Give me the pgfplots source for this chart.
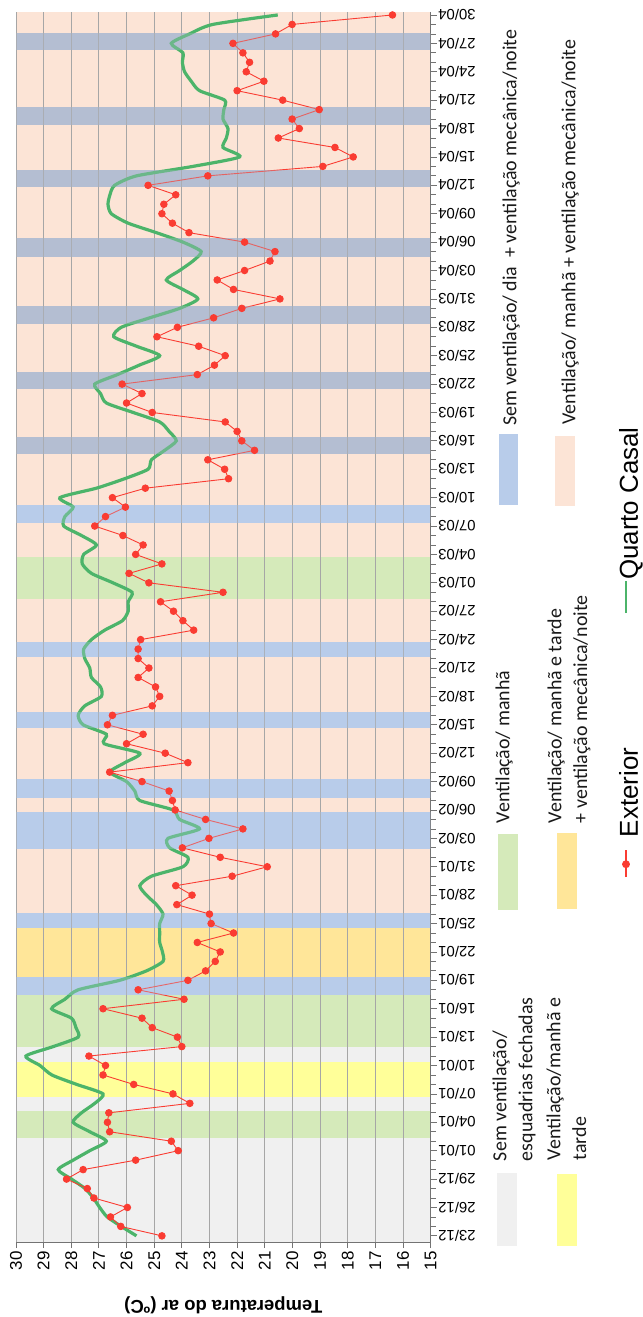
\documentclass[border=0pt]{standalone}
\usepackage{fontspec}
\setmainfont{Liberation Sans}
\newfontfamily\calibri{Carlito}
\usepackage{pgfplots}
\pgfplotsset{compat=1.18}
\usepackage{pgfplotstable}

\definecolor{cPeach}{RGB}{252,228,214}
\definecolor{cGrey}{RGB}{240,240,240}
\definecolor{cYellow}{RGB}{255,255,153}
\definecolor{cGreen}{RGB}{213,234,186}
\definecolor{cOrange}{RGB}{255,230,153}
\definecolor{cBlue}{RGB}{184,204,234}
\definecolor{cGBlue}{RGB}{180,190,210}
\definecolor{cRed}{RGB}{250,60,50}
\definecolor{cLine}{RGB}{76,180,106}

\pgfplotstableread{
d T
0 24.72
1 26.21
2 26.58
3 25.97
4 27.18
5 27.42
6 28.17
7 27.57
8 25.67
9 24.13
10 24.38
11 26.61
12 26.69
13 26.64
14 23.71
15 24.32
16 25.74
17 26.85
18 26.76
19 27.36
20 24.0
21 24.16
22 25.07
23 25.44
24 26.85
25 23.92
26 25.58
27 23.78
28 23.14
29 22.79
30 22.61
31 23.44
32 22.13
33 22.94
34 23.0
35 24.18
36 23.63
37 24.22
38 22.18
39 20.91
40 22.61
41 23.98
42 23.02
43 21.79
44 23.14
45 24.24
46 24.34
47 24.46
48 25.44
49 26.61
50 23.78
51 24.6
52 26.0
53 25.4
54 26.69
55 26.51
56 25.07
57 24.8
58 24.95
59 25.58
60 25.19
61 25.58
62 25.58
63 25.49
64 23.57
65 23.96
66 24.3
67 24.77
68 22.51
69 25.19
70 25.91
71 24.72
72 25.67
73 25.4
74 26.13
75 27.15
76 26.76
77 26.04
78 26.51
79 25.32
80 22.31
81 22.45
82 23.06
83 21.37
84 21.83
85 22.0
86 22.43
87 25.07
88 26.0
89 25.44
90 26.16
91 23.44
92 22.82
93 22.43
94 23.39
95 24.9
96 24.16
97 22.85
98 21.83
99 20.45
100 22.13
101 22.72
102 21.73
103 20.81
104 20.63
105 21.73
106 23.74
107 24.34
108 24.72
109 24.65
110 24.22
111 25.22
112 23.06
113 18.9
114 17.8
115 18.46
116 20.51
117 19.75
118 20.01
119 19.03
120 20.35
121 22.0
122 21.03
123 21.67
124 21.55
125 21.79
126 22.15
127 20.61
128 20.01
129 16.38
}\exterior

\pgfplotstableread{
d T
0 25.64
1 26.19
2 26.70
3 26.97
4 27.2
5 27.5
6 27.99
7 28.47
8 27.93
9 27.33
10 26.73
11 27.33
12 27.93
13 27.63
14 27.15
15 26.85
16 27.8
17 28.7
18 29.13
19 29.64
20 28.65
21 27.75
22 27.83
23 27.99
24 28.71
25 28.23
26 27.75
27 26.25
28 25.28
29 24.68
30 24.7
31 24.8
32 24.8
33 24.8
34 24.68
35 24.92
36 25.28
37 25.52
38 25.1
39 23.96
40 23.78
41 24.44
42 24.5
43 23.36
44 24.08
45 24.32
46 25.52
47 25.7
48 26.0
49 26.6
50 26.06
51 25.52
52 26.81
53 26.73
54 27.57
55 27.75
56 27.51
57 26.91
58 26.94
59 27.27
60 27.33
61 27.51
62 27.55
63 27.27
64 26.79
65 26.15
66 25.94
67 25.94
68 25.8
69 26.49
70 27.27
71 27.6
72 27.55
73 27.09
74 27.63
75 28.27
76 28.23
77 27.93
78 28.41
79 27.09
80 26.07
81 25.22
82 25.1
83 24.62
84 24.2
85 24.46
86 24.8
87 25.76
88 26.73
89 26.94
90 27.15
91 26.33
92 25.54
93 24.8
94 25.64
95 26.46
96 26.19
97 25.16
98 24.08
99 23.42
100 23.96
101 24.56
102 24.08
103 23.6
104 23.3
105 23.96
106 24.92
107 25.94
108 26.55
109 26.67
110 26.6
111 26.43
112 25.64
113 23.6
114 21.91
115 22.51
116 22.39
117 22.33
118 22.51
119 22.48
120 22.45
121 23.36
122 23.66
123 23.9
124 23.98
125 23.96
126 24.38
127 23.72
128 22.88
129 20.53
}\quarto

\newcommand{\band}[3]{\addplot[on layer=axis background, fill=#1, draw=none] coordinates {(15,#2) (30,#2) (30,#3) (15,#3)} -- cycle;}
\newcommand{\bandtop}[3]{\addplot[fill=#1, fill opacity=0.3, draw=none] coordinates {(15,#2) (30,#2) (30,#3) (15,#3)} -- cycle;}

\begin{document}
\begin{tikzpicture}
\begin{axis}[
  at={(16pt,71pt)}, anchor=south west,
  scale only axis, width=416pt, height=1234.3pt,
  set layers,
  xmin=15, xmax=30, x dir=reverse,
  ymin=-0.65, ymax=129.35,
  axis x line*=bottom, axis y line*=right,
  axis line style={draw=black!55, line width=0.8pt},
  xtick={15,16,...,30},
  xmajorgrids, grid style={draw=black!35, line width=0.8pt},
  ytick={0,3,...,129},
  minor ytick={0,1,...,129},
  yticklabels={23/12,26/12,29/12,01/01,04/01,07/01,10/01,13/01,16/01,19/01,22/01,25/01,28/01,31/01,03/02,06/02,09/02,12/02,15/02,18/02,21/02,24/02,27/02,01/03,04/03,07/03,10/03,13/03,16/03,19/03,22/03,25/03,28/03,31/03,03/04,06/04,09/04,12/04,15/04,18/04,21/04,24/04,27/04,30/04},
  tick align=outside,
  major tick length=6pt, minor tick length=5pt,
  tick style={draw=black!55, line width=0.8pt},
  /pgf/number format/assume math mode=true,
  xticklabel style={rotate=90, anchor=east, font=\fontsize{17}{17}\selectfont, inner sep=3pt},
  yticklabel style={rotate=180, anchor=east, font=\fontsize{15}{15}\selectfont, inner sep=1.5pt},
  xlabel={Temperatura do ar (ºC)},
  xlabel style={yshift=-20pt, rotate=180, anchor=south, font=\bfseries\fontsize{18.5}{18.5}\selectfont},
]
\band{cPeach}{-0.65}{129.35}
\band{cGrey}{-0.65}{10.35}
\band{cGrey}{13.16}{14.67}
\band{cGrey}{18.42}{20.0}
\band{cGreen}{10.35}{13.16}
\band{cGreen}{20.0}{25.5}
\band{cGreen}{67.26}{71.75}
\band{cYellow}{14.67}{18.42}
\band{cOrange}{27.3}{32.5}
\band{cBlue}{25.5}{27.3}
\band{cBlue}{32.5}{34.1}
\band{cBlue}{40.9}{44.8}
\band{cBlue}{46.3}{48.3}
\band{cBlue}{53.7}{55.3}
\band{cBlue}{61.2}{62.8}
\band{cBlue}{75.33}{77.2}
\band{cGBlue}{82.63}{84.45}
\band{cGBlue}{89.47}{91.3}
\band{cGBlue}{96.4}{98.25}
\band{cGBlue}{103.4}{105.4}
\band{cGBlue}{110.8}{112.6}
\band{cGBlue}{117.4}{119.3}
\band{cGBlue}{125.3}{127.1}

\addplot[cLine, line width=3.2pt, smooth, tension=0.4] table[x=T, y=d] {\quarto};
\addplot[cRed, line width=0.9pt, mark=*, mark size=3.3pt, mark options={fill=cRed, draw=none}] table[x=T, y=d] {\exterior};

\bandtop{cBlue}{25.5}{27.3}
\bandtop{cBlue}{32.5}{34.1}
\bandtop{cBlue}{40.9}{44.8}
\bandtop{cBlue}{46.3}{48.3}
\bandtop{cBlue}{53.7}{55.3}
\bandtop{cBlue}{61.2}{62.8}
\bandtop{cBlue}{75.33}{77.2}
\bandtop{cGBlue}{82.63}{84.45}
\bandtop{cGBlue}{89.47}{91.3}
\bandtop{cGBlue}{96.4}{98.25}
\bandtop{cGBlue}{103.4}{105.4}
\bandtop{cGBlue}{110.8}{112.6}
\bandtop{cGBlue}{117.4}{119.3}
\bandtop{cGBlue}{125.3}{127.1}
\end{axis}

% band legend
\fill[cGrey]   (499pt,67pt)  rectangle (519pt,140pt);
\fill[cYellow] (559pt,67pt)  rectangle (579pt,139pt);
\fill[cGreen]  (500pt,404pt) rectangle (520pt,480pt);
\fill[cOrange] (559pt,405pt) rectangle (579pt,481pt);
\fill[cBlue]   (501pt,810pt) rectangle (520pt,882pt);
\fill[cPeach]  (557pt,809pt) rectangle (577pt,880pt);

\begin{scope}[every node/.style={rotate=90, anchor=north west, inner sep=0pt, align=left, font=\calibri\fontsize{20}{26}\selectfont, text=black!90}]
\node at (494pt,152pt) {Sem ventilação/\\esquadrias fechadas};
\node at (548pt,153pt) {Ventilação/manhã e\\tarde};
\node at (497pt,491pt) {Ventilação/ manhã};
\node at (549pt,491pt) {Ventilação/ manhã e tarde\\+ ventilação mecânica/noite};
\node at (504pt,890pt) {Sem ventilação/ dia \ + ventilação mecânica/noite};
\node at (563pt,891pt) {Ventilação/ manhã + ventilação mecânica/noite};
\end{scope}

% series legend
\draw[cRed, line width=1.5pt] (628pt,437pt) -- (628pt,464pt);
\fill[cRed] (628pt,450pt) circle (4pt);
\node[rotate=90, anchor=base west, inner sep=0pt, font=\fontsize{26}{26}\selectfont] at (640pt,477pt) {Exterior};
\draw[cLine, line width=3pt] (628pt,702pt) -- (628pt,734pt);
\node[rotate=90, anchor=base west, inner sep=0pt, font=\fontsize{26}{26}\selectfont] at (640pt,735pt) {Quarto Casal};
\path (0,0) rectangle (643pt,1317pt);
\end{tikzpicture}
\end{document}
